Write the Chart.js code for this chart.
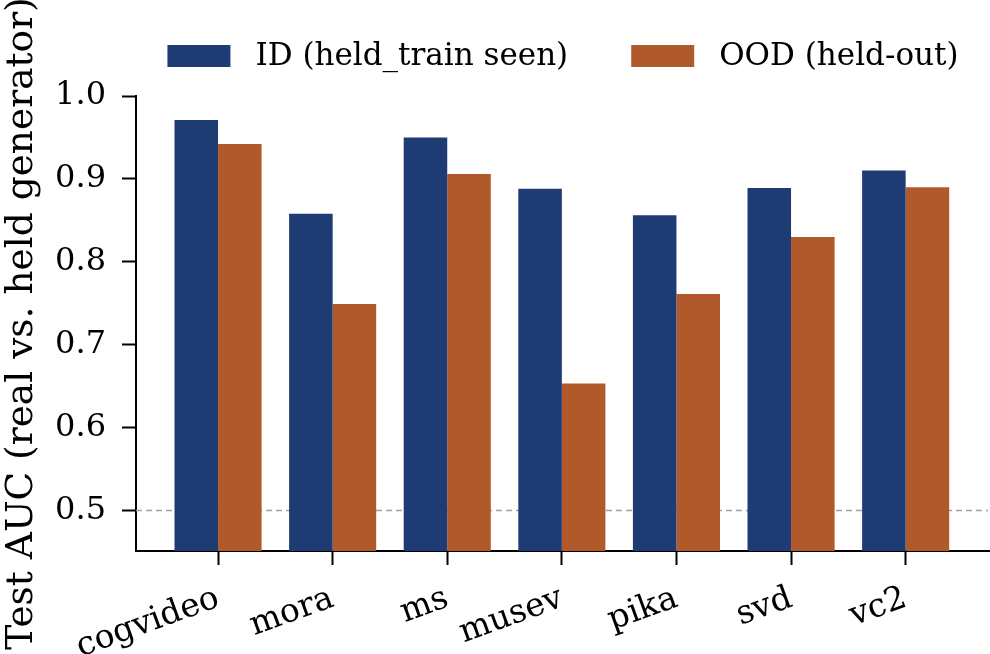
<!DOCTYPE html>
<html>
<head>
<meta charset="utf-8">
<script src="https://cdn.jsdelivr.net/npm/chart.js@4.4.1/dist/chart.umd.min.js"></script>
<style>
  html, body { margin: 0; padding: 0; background: #fff; }
  #wrap { width: 990px; height: 654px; }
</style>
</head>
<body>
<div id="wrap"><canvas id="auc"></canvas></div>
<script>
const categories = ['cogvideo', 'mora', 'ms', 'musev', 'pika', 'svd', 'vc2'];
const idValues = [0.971, 0.858, 0.950, 0.888, 0.856, 0.889, 0.910];
const oodValues = [0.942, 0.749, 0.906, 0.653, 0.761, 0.830, 0.890];
const yTicks = [0.5, 0.6, 0.7, 0.8, 0.9, 1.0];
const seriesNames = ['ID (held_train seen)', 'OOD (held-out)'];
const chanceLevel = 0.5;

const BLUE = '#1f3b73';
const ORANGE = '#b05a2c';
const FONT = "'DejaVu Serif', serif";

const toPoints = vals => vals.map((v, i) => ({ x: i, y: v }));

// dashed chance line + legend drawn on top
const extras = {
  id: 'extras',
  beforeDatasetsDraw(chart) {
    const { ctx, chartArea, scales } = chart;
    const y = scales.y.getPixelForValue(chanceLevel);
    ctx.save();
    ctx.strokeStyle = '#a0a0a0';
    ctx.lineWidth = 1.5;
    ctx.setLineDash([6, 4]);
    ctx.beginPath();
    ctx.moveTo(chartArea.left, y);
    ctx.lineTo(chartArea.right - 2, y);
    ctx.stroke();
    ctx.restore();
  },
  afterDraw(chart) {
    const { ctx, chartArea } = chart;
    ctx.save();
    ctx.font = '31px ' + FONT;
    const boxW = 63, boxH = 22, gap = 25, spacing = 63;
    const widths = seriesNames.map(s => ctx.measureText(s).width);
    const total = boxW * 2 + gap * 2 + widths[0] + widths[1] + spacing;
    let x = (chartArea.left + chartArea.right) / 2 - total / 2;
    const yc = 56;
    const colors = [BLUE, ORANGE];
    ctx.textBaseline = 'middle';
    seriesNames.forEach((name, i) => {
      ctx.fillStyle = colors[i];
      ctx.fillRect(x, yc - boxH / 2, boxW, boxH);
      x += boxW + gap;
      ctx.fillStyle = '#000';
      ctx.fillText(name, x, yc + 1);
      x += widths[i] + spacing;
    });
    ctx.restore();
  }
};

new Chart(document.getElementById('auc').getContext('2d'), {
  type: 'bar',
  data: {
    datasets: [
      { label: seriesNames[0], data: toPoints(idValues), backgroundColor: BLUE },
      { label: seriesNames[1], data: toPoints(oodValues), backgroundColor: ORANGE }
    ]
  },
  options: {
    responsive: true,
    maintainAspectRatio: false,
    animation: false,
    categoryPercentage: 0.76,
    barPercentage: 1.0,
    layout: { padding: { top: 96, right: 0, left: 0, bottom: 0 } },
    plugins: { legend: { display: false }, tooltip: { enabled: false } },
    scales: {
      x: {
        type: 'linear',
        min: -0.716,
        max: 6.736,
        offset: false,
        afterBuildTicks: s => { s.ticks = categories.map((_, i) => ({ value: i })); },
        afterFit: s => { s.height = 103; },
        grid: { offset: false, drawOnChartArea: false, drawTicks: true, tickLength: 14, tickWidth: 2, color: '#000' },
        border: { display: true, color: '#000', width: 2 },
        ticks: {
          autoSkip: false,
          maxRotation: 20,
          minRotation: 20,
          padding: 14,
          color: '#000',
          font: { family: FONT, size: 33 },
          callback: v => categories[v]
        }
      },
      y: {
        min: 0.451,
        max: 1.0,
        afterBuildTicks: s => { s.ticks = yTicks.map(v => ({ value: v })); },
        afterFit: s => { s.width = 136; },
        grid: { drawOnChartArea: false, drawTicks: true, tickLength: 14, tickWidth: 2, color: '#000' },
        border: { display: true, color: '#000', width: 2 },
        ticks: {
          padding: 16,
          color: '#000',
          font: { family: FONT, size: 32 },
          callback: v => v.toFixed(1)
        },
        title: {
          display: true,
          text: 'Test AUC (real vs. held generator)',
          color: '#000',
          font: { family: FONT, size: 37.5 },
          padding: { top: 0, bottom: 0 }
        }
      }
    }
  },
  plugins: [extras]
});
</script>
</body>
</html>
